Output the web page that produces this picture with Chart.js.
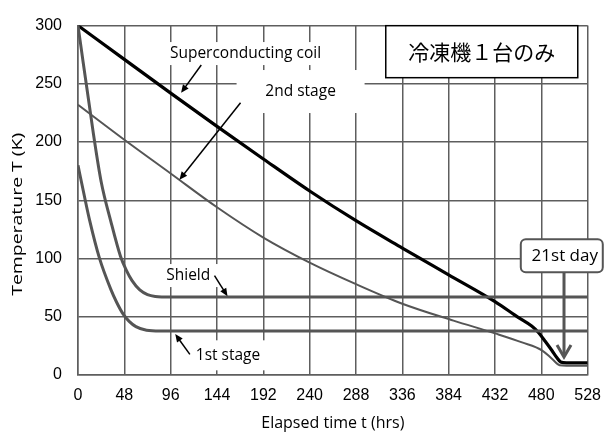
<!DOCTYPE html>
<html>
<head>
<meta charset="utf-8">
<script src="https://cdn.jsdelivr.net/npm/chart.js@4.4.1/dist/chart.umd.min.js"></script>
<style>
  html, body { margin: 0; padding: 0; background: #fff; }
  #wrap { width: 612px; height: 435px; }
</style>
</head>
<body>
<div id="wrap"><canvas id="chart" width="612" height="435"></canvas></div>
<script>
// Cooldown curves (hours vs kelvin)
const coilHours = [0, 48, 96, 144, 192, 240, 288, 336, 384, 432, 456, 470, 477, 484, 491, 496, 500, 506, 528];
const coilTemp = [300, 271, 242, 213.5, 185.5, 158, 132.5, 109, 86, 63, 49.5, 42, 36.5, 29, 21, 15, 11.2, 10.4, 10.4];

const stage2Hours = [0, 48, 96, 144, 192, 240, 288, 336, 389, 433, 460, 481, 491, 499, 506, 528];
const stage2Temp = [232, 202, 173, 144, 118, 96.5, 78, 61.2, 46.7, 35.5, 28, 21, 14, 8.4, 8, 8];

const shieldHours = [0, 16, 24, 34, 44, 50, 56, 64, 72, 80, 96, 528];
const shieldTemp = [300, 207, 166, 132, 102, 90, 81, 73, 69, 67.5, 67, 67];

const stage1Hours = [0, 6, 12, 22, 34, 40, 47, 53, 60, 71, 85, 528];
const stage1Temp = [180, 156, 133, 101, 73.5, 62.5, 52, 46, 41.5, 38.4, 37.8, 37.8];

// axis ticks
const timeTicks = [0, 48, 96, 144, 192, 240, 288, 336, 384, 432, 480, 528];
const tempTicks = [0, 50, 100, 150, 200, 250, 300];

const toPoints = (hours, temps) => hours.map((h, i) => ({ x: h, y: temps[i] }));

// Labels and arrows, placed in data coordinates (hours, kelvin)
const notes = [
  { text: 'Superconducting coil', t: 173.5, T: 276, w: 170, h: 23 },
  { text: '2nd stage', t: 230.6, T: 243.4, w: 128, h: 43 },
  { text: 'Shield', t: 114.2, T: 85.4, w: 62, h: 23 },
  { text: '1st stage', t: 155.4, T: 16.9, w: 75, h: 30 },
];
const arrows = [
  { from: [127.7, 266.2], to: [106.8, 242.3] },
  { from: [168.4, 233.8], to: [105.1, 167.6] },
  { from: [141.4, 85.4], to: [154.9, 67.6] },
  { from: [115.9, 17.7], to: [100.7, 35.2] },
];

const labelFont = "15.5px 'Open Sans', sans-serif";

function drawArrow(ctx, x1, y1, x2, y2) {
  const ang = Math.atan2(y2 - y1, x2 - x1);
  const len = 8, half = 3.5;
  ctx.beginPath();
  ctx.moveTo(x1, y1);
  ctx.lineTo(x2 - Math.cos(ang) * len * 0.8, y2 - Math.sin(ang) * len * 0.8);
  ctx.stroke();
  ctx.beginPath();
  ctx.moveTo(x2, y2);
  ctx.lineTo(x2 - Math.cos(ang) * len - Math.sin(ang) * half, y2 - Math.sin(ang) * len + Math.cos(ang) * half);
  ctx.lineTo(x2 - Math.cos(ang) * len + Math.sin(ang) * half, y2 - Math.sin(ang) * len - Math.cos(ang) * half);
  ctx.closePath();
  ctx.fill();
}

const annotate = {
  id: 'annotate',
  // white patches behind the labels, over the grid
  beforeDatasetsDraw(chart) {
    const { ctx, scales: { x, y } } = chart;
    ctx.save();
    ctx.fillStyle = '#fff';
    notes.forEach(n => {
      const cx = x.getPixelForValue(n.t), cy = y.getPixelForValue(n.T);
      ctx.fillRect(cx - n.w / 2, cy - n.h / 2, n.w, n.h);
    });
    ctx.restore();
  },
  afterDatasetsDraw(chart) {
    const { ctx, scales: { x, y } } = chart;
    ctx.save();
    ctx.font = labelFont;
    ctx.fillStyle = '#000';
    ctx.textAlign = 'center';
    ctx.textBaseline = 'middle';
    notes.forEach(n => {
      ctx.fillText(n.text, x.getPixelForValue(n.t), y.getPixelForValue(n.T));
    });

    ctx.strokeStyle = '#000';
    ctx.lineWidth = 1.5;
    arrows.forEach(a => {
      drawArrow(ctx, x.getPixelForValue(a.from[0]), y.getPixelForValue(a.from[1]),
        x.getPixelForValue(a.to[0]), y.getPixelForValue(a.to[1]));
    });

    // "one cryocooler only" box
    const bx = x.getPixelForValue(418.3), by = y.getPixelForValue(277.6);
    ctx.fillStyle = '#fff';
    ctx.fillRect(bx - 96, by - 26, 192, 52);
    ctx.lineWidth = 1.5;
    ctx.strokeRect(bx - 96, by - 26, 192, 52);
    ctx.fillStyle = '#000';
    ctx.font = "21px 'Noto Sans CJK JP', sans-serif";
    ctx.fillText('冷凍機１台のみ', bx, by);

    // 21st day callout
    const dx = x.getPixelForValue(501.2), dy = y.getPixelForValue(102.3);
    const ax = x.getPixelForValue(503.5);
    const top = y.getPixelForValue(87.8), tip = y.getPixelForValue(15.5);
    ctx.strokeStyle = '#555';
    ctx.lineWidth = 3;
    ctx.beginPath();
    ctx.moveTo(ax, top);
    ctx.lineTo(ax, tip - 1);
    ctx.stroke();
    ctx.beginPath();
    ctx.moveTo(ax - 7, tip - 12);
    ctx.lineTo(ax, tip);
    ctx.lineTo(ax + 7, tip - 12);
    ctx.stroke();

    ctx.fillStyle = '#fff';
    ctx.lineWidth = 2;
    ctx.beginPath();
    ctx.roundRect(dx - 41, dy - 16.5, 82, 33, 5);
    ctx.fill();
    ctx.stroke();
    ctx.fillStyle = '#000';
    ctx.font = "17px 'Open Sans', sans-serif";
    ctx.fillText('21st day', dx + 3, dy);
    ctx.restore();
  },
  // stretched vertical axis title
  afterDraw(chart) {
    const { ctx, chartArea } = chart;
    ctx.save();
    ctx.font = "14px 'Open Sans', sans-serif";
    ctx.fillStyle = '#000';
    ctx.textAlign = 'center';
    ctx.textBaseline = 'middle';
    const label = 'Temperature T (K)';
    const sx = 163 / ctx.measureText(label).width;
    ctx.translate(18, (chartArea.top + chartArea.bottom) / 2 + 14);
    ctx.rotate(-Math.PI / 2);
    ctx.scale(sx, 1);
    ctx.fillText(label, 0, 0);
    ctx.restore();
  }
};

const lineStyle = (color, width) => ({
  borderColor: color,
  backgroundColor: color,
  borderWidth: width,
  pointRadius: 0,
  fill: false,
  cubicInterpolationMode: 'monotone',
});

const gridColor = '#5e5e5e';

new Chart(document.getElementById('chart').getContext('2d'), {
  type: 'line',
  data: {
    datasets: [
      { label: 'Shield', data: toPoints(shieldHours, shieldTemp), ...lineStyle('#555', 3) },
      { label: '1st stage', data: toPoints(stage1Hours, stage1Temp), ...lineStyle('#555', 3) },
      { label: '2nd stage', data: toPoints(stage2Hours, stage2Temp), ...lineStyle('#555', 2) },
      { label: 'Superconducting coil', data: toPoints(coilHours, coilTemp), ...lineStyle('#000', 3.2) },
    ],
  },
  options: {
    responsive: false,
    animation: false,
    devicePixelRatio: 1,
    layout: { padding: { top: 20, right: 15, left: 0, bottom: 0 } },
    plugins: {
      legend: { display: false },
      tooltip: { enabled: false },
    },
    scales: {
      x: {
        type: 'linear',
        min: 0,
        max: 528,
        afterBuildTicks: (scale) => { scale.ticks = timeTicks.map(v => ({ value: v })); },
        afterFit: (scale) => { scale.height = 60; },
        grid: { color: gridColor, lineWidth: 1.5, drawTicks: false },
        border: { color: gridColor, width: 1.5 },
        ticks: {
          padding: 11,
          maxRotation: 0,
          color: '#000',
          font: { family: "'Liberation Sans', Arial, sans-serif", size: 16 },
        },
        title: {
          display: true,
          text: 'Elapsed time t (hrs)',
          color: '#000',
          font: { family: "'Open Sans', sans-serif", size: 16 },
          padding: { top: 0, bottom: 2 },
        },
      },
      y: {
        min: 0,
        max: 300,
        afterBuildTicks: (scale) => { scale.ticks = tempTicks.map(v => ({ value: v })); },
        afterFit: (scale) => { scale.width = 78; },
        grid: { color: gridColor, lineWidth: 1.5, drawTicks: false },
        border: { color: gridColor, width: 1.5 },
        ticks: {
          padding: 16,
          color: '#000',
          font: { family: "'Liberation Sans', Arial, sans-serif", size: 16 },
        },
      },
    },
  },
  plugins: [annotate],
});
</script>
</body>
</html>
